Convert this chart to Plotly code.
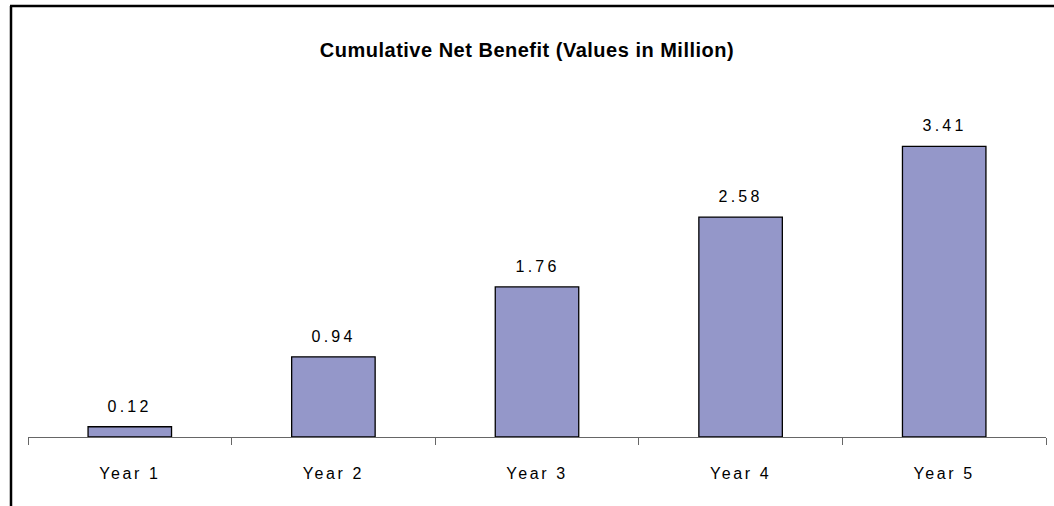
import plotly.graph_objects as go

# --- data ---
years = ["Year 1", "Year 2", "Year 3", "Year 4", "Year 5"]
net_benefit = [0.12, 0.94, 1.76, 2.58, 3.41]

W, H = 1054, 506
L, R, T, B = 28, 8, 96, 69
plot_w = W - L - R
plot_h = H - T - B
FONT = "Arial, Liberation Sans"


def px_x(px):
    return (px - L) / plot_w


def px_y(py):
    return (H - B - py) / plot_h


fig = go.Figure()
fig.add_trace(go.Bar(
    x=years, y=net_benefit,
    marker=dict(color="#9497C9", line=dict(color="black", width=1.3)),
    hoverinfo="x+y",
))

# value labels sitting a bit above each bar
labels = [dict(x=yr, y=v, text=f"{v:.2f}", showarrow=False, yanchor="bottom", yshift=10,
               font=dict(family=FONT, size=16, color="black"))
          for yr, v in zip(years, net_benefit)]

# frame of the chart area (left and top edges visible)
frame = [
    dict(x0=px_x(11), x1=px_x(11), y0=px_y(6), y1=px_y(520)),
    dict(x0=px_x(10), x1=px_x(1060), y0=px_y(6), y1=px_y(6)),
]
shapes = [dict(type="line", xref="paper", yref="paper", line=dict(color="black", width=2.5), **f)
          for f in frame]

fig.update_layout(
    width=W, height=H,
    margin=dict(l=L, r=R, t=T, b=B),
    paper_bgcolor="white", plot_bgcolor="white",
    showlegend=False,
    bargap=0.59,
    title=dict(
        text="<b>Cumulative Net Benefit (Values in Million)</b>",
        x=0.5, xanchor="center", y=1 - 50 / H, yanchor="middle",
        font=dict(family=FONT, size=20, color="black"),
    ),
    xaxis=dict(
        type="category",
        showline=True, linecolor="#666666", linewidth=1,
        ticks="outside", tickson="boundaries", ticklen=7, tickcolor="#666666",
        ticklabelstandoff=22,
        tickfont=dict(family=FONT, size=16, color="black"),
        showgrid=False,
    ),
    yaxis=dict(range=[0, 4], visible=False, showgrid=False),
    annotations=labels,
    shapes=shapes,
)

# no page margin, and the wider letter spacing of the original
post = ("document.body.style.margin='0';"
        "var s=document.createElement('style');"
        "s.textContent='.xtick text{letter-spacing:2.6px}.annotation-text{letter-spacing:3.2px}"
        ".gtitle{letter-spacing:0.5px}';"
        "document.head.appendChild(s);")

fig.write_html("out.html", post_script=post, config=dict(displayModeBar=False))
